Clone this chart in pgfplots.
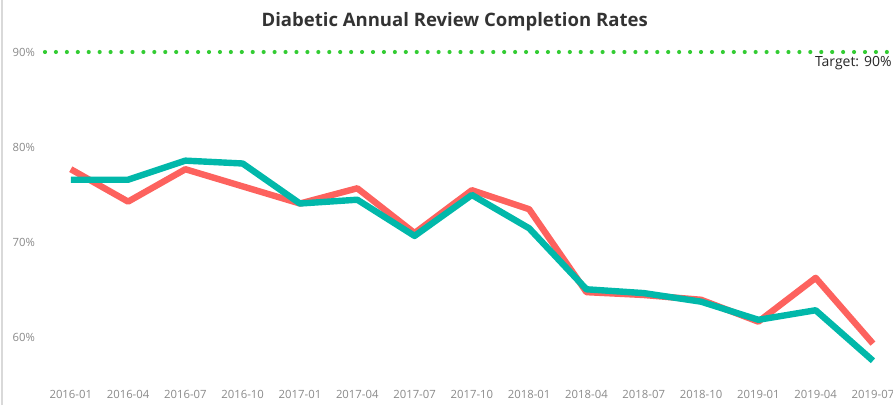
\documentclass[border=0pt]{standalone}
\usepackage{pgfplots}
\pgfplotsset{compat=1.18}
\usepackage{fontspec}
\setmainfont{Open Sans}
\definecolor{redl}{HTML}{FD625E}
\definecolor{teall}{HTML}{01B8AA}
\definecolor{targetg}{HTML}{33CC33}
\definecolor{tickgray}{HTML}{8A8A8A}
\definecolor{titlegray}{HTML}{333333}
\pgfplotstableread{
x red teal
0 77.7 76.6
1 74.3 76.6
2 77.7 78.6
3 75.9 78.3
4 74.1 74.1
5 75.7 74.5
6 71.0 70.7
7 75.5 75.0
8 73.5 71.5
9 64.8 65.1
10 64.5 64.7
11 64.0 63.8
12 61.7 61.9
13 66.3 62.9
14 59.4 57.6
}\datatable
\begin{document}
\begin{tikzpicture}
\useasboundingbox (0,0) rectangle (669.75pt,303.75pt);
\clip (0,0) rectangle (669.75pt,303.75pt);
\draw[line width=2.2pt, black!15] (1.5pt,0) -- (1.5pt,303.75pt);
\begin{axis}[
  at={(33.75pt,18.75pt)}, anchor=south west,
  scale only axis, width=636pt, height=253.5pt,
  xmin=-0.45, xmax=14.35, ymin=55.58, ymax=91.05,
  axis line style={draw=none},
  xtick={0,...,14},
  xticklabels={2016-01,2016-04,2016-07,2016-10,2017-01,2017-04,2017-07,2017-10,2018-01,2018-04,2018-07,2018-10,2019-01,2019-04,2019-07},
  ytick={60,70,80,90},
  yticklabel={\pgfmathprintnumber{\tick}\%},
  /pgf/number format/assume math mode=true,
  tick label style={font=\fontsize{8.5}{10}\selectfont, text=tickgray},
  xticklabel style={yshift=-4.5pt},
  yticklabel style={xshift=-4pt},
  major tick length=0pt,
  tick style={draw=none},
  clip=false,
]
\addplot[targetg, line width=3.1pt, line cap=round, dash pattern=on 0pt off 8.2pt] coordinates {(-0.45,90) (14.35,90)};
\addplot[redl, line width=4.8pt, line join=round] table[x=x,y=red] {\datatable};
\addplot[teall, line width=4.8pt, line join=round] table[x=x,y=teal] {\datatable};
\node[anchor=north east, font=\fontsize{10.5}{12}\selectfont, text=black!85, inner sep=0pt] at (axis cs:14.33,89.6) {Target: 90\%};
\end{axis}
\node[font=\bfseries\fontsize{13.9}{16}\selectfont, text=titlegray] at (341pt,287.5pt) {Diabetic Annual Review Completion Rates};
\end{tikzpicture}
\end{document}
